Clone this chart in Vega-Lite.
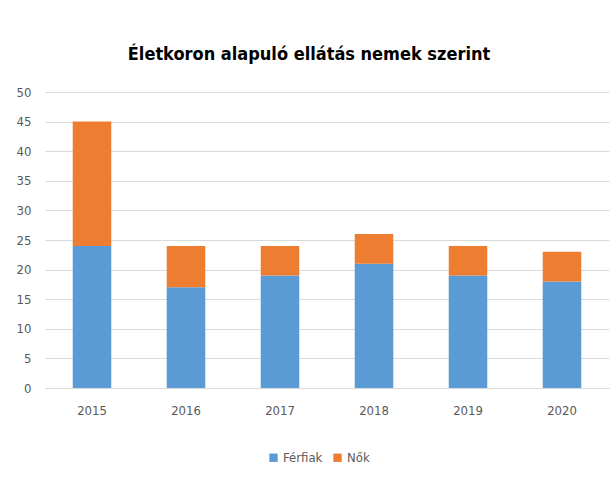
{
  "$schema": "https://vega.github.io/schema/vega-lite/v6.json",
  "width": 564,
  "height": 296,
  "autosize": {"type": "none"},
  "padding": {"left": 45, "top": 92, "right": 7, "bottom": 91},
  "background": "white",
  "title": {
    "text": "Életkoron alapuló ellátás nemek szerint",
    "font": "DejaVu Sans Condensed, sans-serif",
    "fontSize": 18,
    "fontWeight": "bold",
    "color": "#000000",
    "anchor": "middle",
    "offset": 22,
    "dx": -18
  },
  "data": {
    "values": [
      {"year": "2015", "group": "Férfiak", "value": 24},
      {"year": "2015", "group": "Nők", "value": 21},
      {"year": "2016", "group": "Férfiak", "value": 17},
      {"year": "2016", "group": "Nők", "value": 7},
      {"year": "2017", "group": "Férfiak", "value": 19},
      {"year": "2017", "group": "Nők", "value": 5},
      {"year": "2018", "group": "Férfiak", "value": 21},
      {"year": "2018", "group": "Nők", "value": 5},
      {"year": "2019", "group": "Férfiak", "value": 19},
      {"year": "2019", "group": "Nők", "value": 5},
      {"year": "2020", "group": "Férfiak", "value": 18},
      {"year": "2020", "group": "Nők", "value": 5}
    ]
  },
  "mark": {"type": "bar"},
  "encoding": {
    "x": {
      "field": "year",
      "type": "nominal",
      "scale": {"paddingInner": 0.59, "paddingOuter": 0.295},
      "axis": {
        "title": null,
        "labelAngle": 0,
        "ticks": false,
        "domainColor": "#d9d9d9",
        "labelPadding": 16,
        "labelFontSize": 13,
        "labelColor": "#595959",
        "labelFont": "DejaVu Sans Condensed, sans-serif"
      }
    },
    "y": {
      "field": "value",
      "type": "quantitative",
      "stack": "zero",
      "scale": {"domain": [0, 50], "nice": false},
      "axis": {
        "title": null,
        "values": [0, 5, 10, 15, 20, 25, 30, 35, 40, 45, 50],
        "domain": false,
        "ticks": false,
        "gridColor": "#d9d9d9",
        "labelPadding": 14,
        "labelFontSize": 13,
        "labelColor": "#595959",
        "labelFont": "DejaVu Sans Condensed, sans-serif"
      }
    },
    "color": {
      "field": "group",
      "type": "nominal",
      "scale": {"domain": ["Férfiak", "Nők"], "range": ["#5b9bd5", "#ed7d31"]},
      "legend": {
        "title": null,
        "orient": "none",
        "direction": "horizontal",
        "legendX": 222,
        "legendY": 359,
        "symbolType": "square",
        "symbolSize": 70,
        "symbolStrokeWidth": 0,
        "labelFontSize": 13,
        "labelColor": "#595959",
        "labelFont": "DejaVu Sans Condensed, sans-serif",
        "columnPadding": 8,
        "labelOffset": 3
      }
    },
    "order": {"field": "group", "sort": "ascending"}
  },
  "config": {"view": {"stroke": null}}
}
